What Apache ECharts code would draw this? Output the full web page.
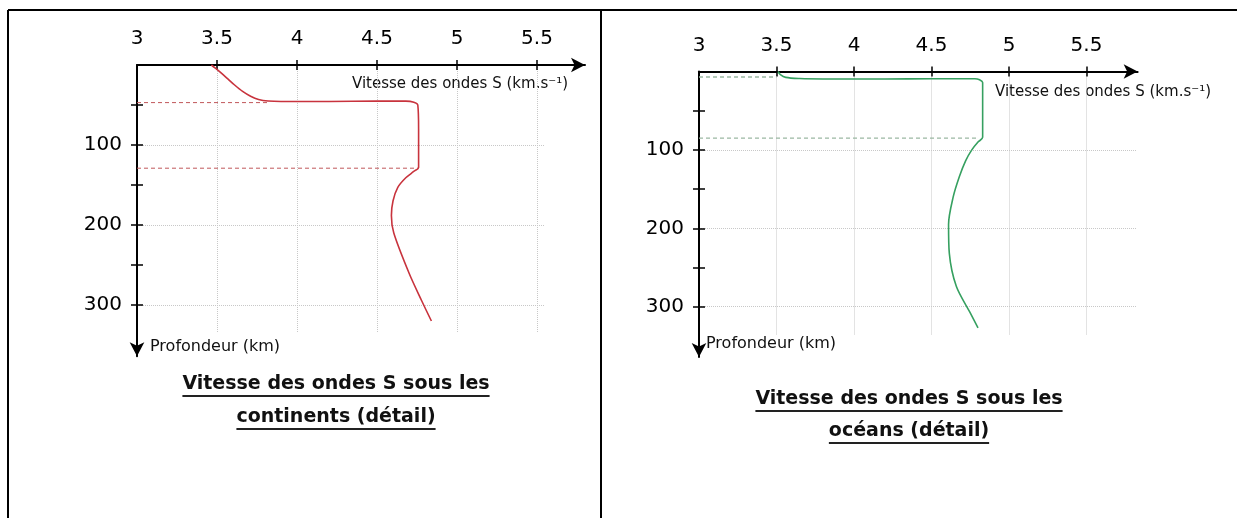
<!DOCTYPE html>
<html>
<head>
<meta charset="utf-8">
<script src="https://cdn.jsdelivr.net/npm/echarts@6/dist/echarts.min.js"></script>
<style>
html,body{margin:0;padding:0;background:#fff;}
#c{width:1237px;height:518px;}
</style>
</head>
<body>
<div id="c"></div>
<script>
// ---- data ----
const xTickValues = [3.5, 4, 4.5, 5, 5.5];
const xLabelValues = [3, 3.5, 4, 4.5, 5, 5.5];
const yTickValues = [50, 100, 150, 200, 250, 300];
const yLabelValues = [100, 200, 300];

// continents: [velocity km/s, depth km]
const continentCurve = [
  [3.465,0],[3.49,4],[3.52,9],[3.56,16],[3.61,25],[3.66,33],[3.71,39],[3.76,43],[3.82,45],[3.90,45.6],
  [4.20,45.6],[4.50,45.2],[4.68,45.2],[4.73,46.5],[4.755,50],[4.76,80],[4.76,128],
  [4.73,133],[4.68,141],[4.63,153],[4.60,170],[4.59,188],[4.605,210],[4.70,260],[4.78,295],[4.84,320]
];
const continentDashTop = [[3, 47],[3.82, 47]];
const continentDashBottom = [[3, 129],[4.76, 129]];

// oceans
const oceanCurve = [
  [3.51,0],[3.525,4],[3.56,7.5],[3.65,9],[3.80,9.5],[4.20,9.5],[4.50,9.2],[4.78,9.2],
  [4.81,10.5],[4.83,14],[4.83,50],[4.83,84],[4.80,90],[4.76,100],[4.72,114],[4.68,134],
  [4.64,160],[4.61,195],[4.615,232],[4.66,274],[4.75,308],[4.80,327]
];
const oceanDashTop = [[3, 7],[3.5, 7]];
const oceanDashBottom = [[3, 85],[4.80, 85]];

const axisNameText = 'Vitesse des ondes S (km.s\u207B\u00B9)';
const depthNameText = 'Profondeur (km)';
const titleContinents = ['Vitesse des ondes S sous les', 'continents (détail)'];
const titleOceans = ['Vitesse des ondes S sous les', 'océans (détail)'];

// ---- layout ----
const FONT = "'DejaVu Sans', sans-serif";
const TITLE_FONT_SIZE = 19;

function panel(idx, g) {
  const grids = [
    {left: g.left, top: g.top, width: (g.xMax - 3) * g.pxPerUnit, height: g.yMax * g.pxPerKm},
    {left: g.left, top: g.top, width: (g.gridXMax - 3) * g.pxPerUnit, height: g.gridYMax * g.pxPerKm}
  ];
  const gi = idx * 2;
  const xAxes = [
    {gridIndex: gi, type: 'value', position: 'top', min: 3, max: g.xMax,
     axisLine: {show: true, lineStyle: {color: '#000', width: 2}, symbol: ['none','arrow'], symbolSize: [11, 14]},
     axisTick: {show: true, inside: false, length: 5, lineStyle: {color: '#000', width: 1.5}, customValues: xTickValues},
     axisLabel: {show: true, margin: 16, fontFamily: FONT, fontSize: 20, color: '#000', customValues: xLabelValues},
     splitLine: {show: false}},
    {gridIndex: gi, type: 'value', position: 'top', min: 3, max: g.xMax,
     axisLine: {show: false},
     axisTick: {show: true, inside: true, length: 5, lineStyle: {color: '#000', width: 1.5}, customValues: xTickValues},
     axisLabel: {show: false}, splitLine: {show: false}},
    {gridIndex: gi + 1, type: 'value', position: 'top', min: 3, max: g.gridXMax, interval: 0.5,
     axisLine: {show: false}, axisTick: {show: false}, axisLabel: {show: false},
     splitLine: {show: true, showMinLine: false, showMaxLine: false, lineStyle: {color: '#c8c8c8', type: 'dotted', width: 1}}}
  ];
  const yAxes = [
    {gridIndex: gi, type: 'value', inverse: true, position: 'left', min: 0, max: g.yMax,
     axisLine: {show: true, lineStyle: {color: '#000', width: 2}, symbol: ['arrow','none'], symbolSize: [11, 14]},
     axisTick: {show: true, inside: false, length: 6, lineStyle: {color: '#000', width: 1.5}, customValues: yTickValues},
     axisLabel: {show: true, margin: 15, fontFamily: FONT, fontSize: 20, color: '#000', customValues: yLabelValues},
     splitLine: {show: false}},
    {gridIndex: gi, type: 'value', inverse: true, position: 'left', min: 0, max: g.yMax,
     axisLine: {show: false},
     axisTick: {show: true, inside: true, length: 6, lineStyle: {color: '#000', width: 1.5}, customValues: yTickValues},
     axisLabel: {show: false}, splitLine: {show: false}},
    {gridIndex: gi + 1, type: 'value', inverse: true, position: 'left', min: 0, max: g.gridYMax, interval: 100,
     axisLine: {show: false}, axisTick: {show: false}, axisLabel: {show: false},
     splitLine: {show: true, showMinLine: false, showMaxLine: false, lineStyle: {color: '#c8c8c8', type: 'dotted', width: 1}}}
  ];
  return {grids, xAxes, yAxes};
}

const P1 = panel(0, {left: 137, top: 65, pxPerUnit: 160, pxPerKm: 0.8, xMax: 5.8, yMax: 364, gridXMax: 5.55, gridYMax: 335});
const P2 = panel(1, {left: 699, top: 71.5, pxPerUnit: 155, pxPerKm: 0.784, xMax: 5.83, yMax: 364, gridXMax: 5.82, gridYMax: 336});

function lineSeries(data, xi, yi, color, width, dashed, smooth) {
  return {
    type: 'line', data: data, xAxisIndex: xi, yAxisIndex: yi,
    showSymbol: false, symbol: 'none', smooth: smooth ? 0.3 : false,
    lineStyle: {color: color, width: width, type: dashed ? [4, 3] : 'solid'},
    silent: true, animation: false, z: dashed ? 3 : 4
  };
}

const RED = '#c8333d', RED_DASH = '#c0575a';
const GREEN = '#36a060', GREEN_DASH = '#9bb8a2';

const series = [
  lineSeries(continentDashTop, 0, 0, RED_DASH, 1, true, false),
  lineSeries(continentDashBottom, 0, 0, RED_DASH, 1, true, false),
  lineSeries(continentCurve, 0, 0, RED, 1.6, false, true),
  lineSeries(oceanDashTop, 3, 3, GREEN_DASH, 1.3, true, false),
  lineSeries(oceanDashBottom, 3, 3, GREEN_DASH, 1.3, true, false),
  lineSeries(oceanCurve, 3, 3, GREEN, 1.6, false, true)
];

const mctx = document.createElement('canvas').getContext('2d');
function textW(t, size, bold) {
  mctx.font = (bold ? 'bold ' : '') + size + 'px ' + FONT;
  return mctx.measureText(t).width;
}

function titleGraphics(lines, cx, ys, uys) {
  const out = [];
  lines.forEach((t, i) => {
    out.push({type: 'text', x: cx, y: ys[i], style: {text: t, fill: '#111', font: 'bold ' + TITLE_FONT_SIZE + 'px ' + FONT, textAlign: 'center', textVerticalAlign: 'middle'}});
    const w = textW(t, TITLE_FONT_SIZE, true);
    out.push({type: 'line', shape: {x1: cx - w / 2, y1: uys[i], x2: cx + w / 2, y2: uys[i]}, style: {stroke: '#222', lineWidth: 1.8}});
  });
  return out;
}

const graphics = [
  {type: 'line', shape: {x1: 8, y1: 10, x2: 1237, y2: 10}, style: {stroke: '#000', lineWidth: 2}},
  {type: 'line', shape: {x1: 8, y1: 10, x2: 8, y2: 518}, style: {stroke: '#000', lineWidth: 2}},
  {type: 'line', shape: {x1: 601, y1: 10, x2: 601, y2: 518}, style: {stroke: '#000', lineWidth: 2}},
  {type: 'text', x: 352, y: 84, style: {text: axisNameText, fill: '#111', font: '15px ' + FONT, textVerticalAlign: 'middle'}},
  {type: 'text', x: 995, y: 92, style: {text: axisNameText, fill: '#111', font: '15px ' + FONT, textVerticalAlign: 'middle'}},
  {type: 'text', x: 150, y: 347, style: {text: depthNameText, fill: '#111', font: '16px ' + FONT, textVerticalAlign: 'middle'}},
  {type: 'text', x: 706, y: 344, style: {text: depthNameText, fill: '#111', font: '16px ' + FONT, textVerticalAlign: 'middle'}}
].concat(
  titleGraphics(titleContinents, 336, [384, 417], [396, 429]),
  titleGraphics(titleOceans, 909, [399, 431], [411, 443])
);

const chart = echarts.init(document.getElementById('c'), null, {renderer: 'canvas'});
chart.setOption({
  animation: false,
  backgroundColor: '#fff',
  grid: P1.grids.concat(P2.grids),
  xAxis: P1.xAxes.concat(P2.xAxes),
  yAxis: P1.yAxes.concat(P2.yAxes),
  series: series,
  graphic: graphics
});
</script>
</body>
</html>
